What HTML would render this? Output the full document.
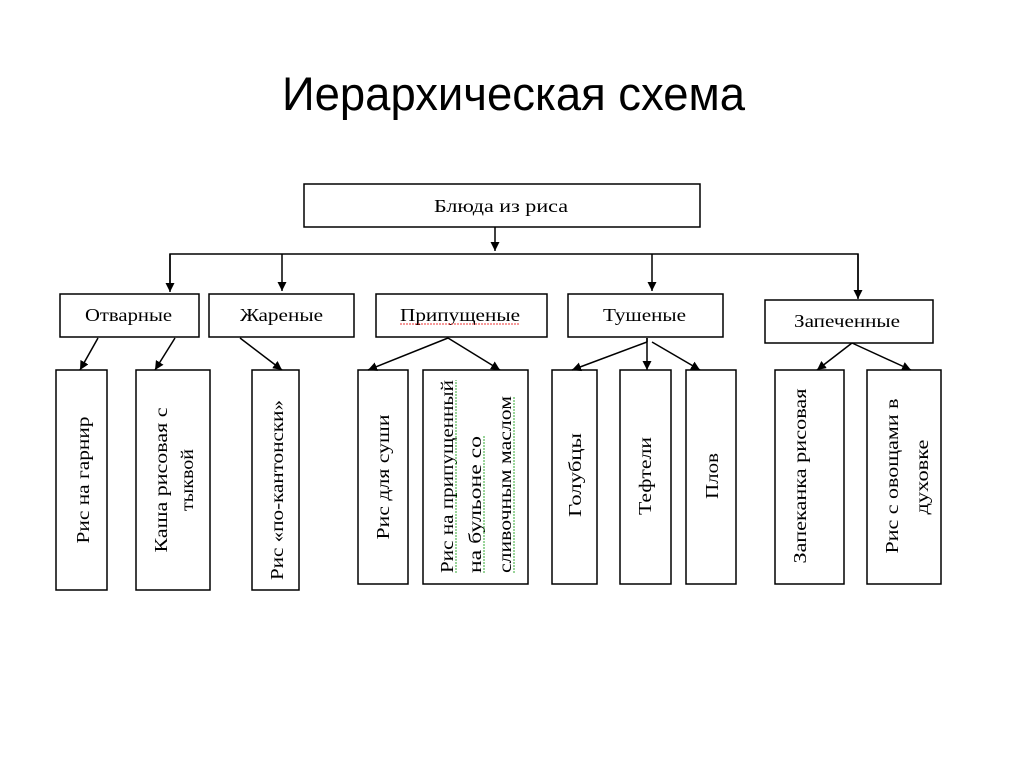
<!DOCTYPE html>
<html><head><meta charset="utf-8"><style>
html,body{margin:0;padding:0;background:#fff;}
svg{display:block;}
</style></head><body>
<svg width="1024" height="767" viewBox="0 0 1024 767" xmlns="http://www.w3.org/2000/svg">
<defs>
<marker id="a" viewBox="0 0 10 10" refX="10" refY="5" markerWidth="9" markerHeight="9" markerUnits="userSpaceOnUse" orient="auto"><path d="M0,0 L10,5 L0,10 z" fill="#000"/></marker>
</defs>
<rect width="1024" height="767" fill="#fff"/>
<text x="282" y="110" font-family="Liberation Sans, sans-serif" font-size="47" textLength="463" lengthAdjust="spacingAndGlyphs" fill="#000">Иерархическая схема</text>

<g fill="#fff" stroke="#000" stroke-width="1.5">
<rect x="304" y="184" width="396" height="43"/>
<rect x="60" y="294" width="139" height="43"/>
<rect x="209" y="294" width="145" height="43"/>
<rect x="376" y="294" width="171" height="43"/>
<rect x="568" y="294" width="155" height="43"/>
<rect x="765" y="300" width="168" height="43"/>
<rect x="56" y="370" width="51" height="220"/>
<rect x="136" y="370" width="74" height="220"/>
<rect x="252" y="370" width="47" height="220"/>
<rect x="358" y="370" width="50" height="214"/>
<rect x="423" y="370" width="105" height="214"/>
<rect x="552" y="370" width="45" height="214"/>
<rect x="620" y="370" width="51" height="214"/>
<rect x="686" y="370" width="50" height="214"/>
<rect x="775" y="370" width="69" height="214"/>
<rect x="867" y="370" width="74" height="214"/>
</g>

<g stroke="#000" stroke-width="1.5" fill="none">
<line x1="495" y1="227" x2="495" y2="251" marker-end="url(#a)"/>
<polyline points="170,288 170,254 858,254 858,298" />
<line x1="170" y1="254" x2="170" y2="292" marker-end="url(#a)"/>
<line x1="282" y1="254" x2="282" y2="291" marker-end="url(#a)"/>
<line x1="652" y1="254" x2="652" y2="291" marker-end="url(#a)"/>
<line x1="858" y1="254" x2="858" y2="299" marker-end="url(#a)"/>
<line x1="98" y1="338" x2="80" y2="370" marker-end="url(#a)"/>
<line x1="175" y1="338" x2="155" y2="370" marker-end="url(#a)"/>
<line x1="240" y1="338" x2="282" y2="370" marker-end="url(#a)"/>
<line x1="448" y1="338" x2="368" y2="370" marker-end="url(#a)"/>
<line x1="448" y1="338" x2="500" y2="370" marker-end="url(#a)"/>
<line x1="647" y1="338" x2="647" y2="342"/>
<line x1="647" y1="342" x2="572" y2="370" marker-end="url(#a)"/>
<line x1="647" y1="338" x2="647" y2="370" marker-end="url(#a)"/>
<line x1="652" y1="342" x2="700" y2="370" marker-end="url(#a)"/>
<line x1="852" y1="343" x2="817" y2="370" marker-end="url(#a)"/>
<line x1="852" y1="343" x2="911" y2="370" marker-end="url(#a)"/>
</g>

<g font-family="Liberation Serif, serif" font-size="18" fill="#000">
<text x="434" y="212" textLength="134" lengthAdjust="spacingAndGlyphs">Блюда из риса</text>
<text x="85" y="321" textLength="87" lengthAdjust="spacingAndGlyphs">Отварные</text>
<text x="240" y="321" textLength="83" lengthAdjust="spacingAndGlyphs">Жареные</text>
<text x="400" y="321" textLength="120" lengthAdjust="spacingAndGlyphs">Припущеные</text>
<text x="603" y="321" textLength="83" lengthAdjust="spacingAndGlyphs">Тушеные</text>
<text x="794" y="327" textLength="106" lengthAdjust="spacingAndGlyphs">Запеченные</text>
</g>
<line x1="400" y1="324" x2="520" y2="324" stroke="#e33" stroke-width="1" stroke-dasharray="2,1"/>

<g font-family="Liberation Serif, serif" font-size="18" fill="#000" text-anchor="middle">
<text transform="translate(89,480) rotate(-90)" textLength="127" lengthAdjust="spacingAndGlyphs">Рис на гарнир</text>
<text transform="translate(167,480) rotate(-90)" textLength="145" lengthAdjust="spacingAndGlyphs">Каша рисовая с</text>
<text transform="translate(193,480) rotate(-90)" textLength="62" lengthAdjust="spacingAndGlyphs">тыквой</text>
<text transform="translate(283,490) rotate(-90)" textLength="180" lengthAdjust="spacingAndGlyphs">Рис «по-кантонски»</text>
<text transform="translate(389,477) rotate(-90)" textLength="125" lengthAdjust="spacingAndGlyphs">Рис для суши</text>
<text transform="translate(581,475) rotate(-90)" textLength="84" lengthAdjust="spacingAndGlyphs">Голубцы</text>
<text transform="translate(651,476) rotate(-90)" textLength="78" lengthAdjust="spacingAndGlyphs">Тефтели</text>
<text transform="translate(718,476) rotate(-90)" textLength="46" lengthAdjust="spacingAndGlyphs">Плов</text>
<text transform="translate(806,476) rotate(-90)" textLength="175" lengthAdjust="spacingAndGlyphs">Запеканка рисовая</text>
<text transform="translate(898,476) rotate(-90)" textLength="155" lengthAdjust="spacingAndGlyphs">Рис с овощами в</text>
<text transform="translate(928,477) rotate(-90)" textLength="75" lengthAdjust="spacingAndGlyphs">духовке</text>
</g>
<g font-family="Liberation Serif, serif" font-size="18" fill="#000" text-anchor="start">
<text transform="translate(453,573) rotate(-90)" textLength="193" lengthAdjust="spacingAndGlyphs">Рис на припущенный</text>
<text transform="translate(481,573) rotate(-90)" textLength="137" lengthAdjust="spacingAndGlyphs">на бульоне со</text>
<text transform="translate(511,573) rotate(-90)" textLength="177" lengthAdjust="spacingAndGlyphs">сливочным маслом</text>
</g>
<g stroke="#3a3" stroke-width="1" stroke-dasharray="2,1">
<line x1="456" y1="573" x2="456" y2="380"/>
<line x1="484" y1="573" x2="484" y2="436"/>
<line x1="514" y1="573" x2="514" y2="396"/>
</g>
</svg>
</body></html>
